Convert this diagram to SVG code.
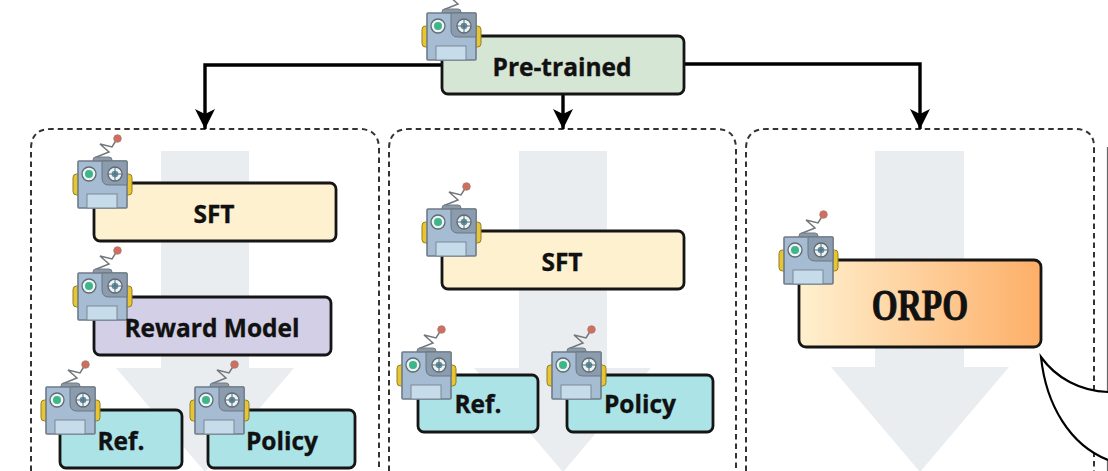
<svg xmlns="http://www.w3.org/2000/svg" width="1108" height="471" viewBox="0 0 1108 471">
<style>
.panel{fill:none;stroke:#333;stroke-width:2;stroke-dasharray:5.5 4}
.band{fill:#e9edf0}
.box{stroke:#151515;stroke-width:2.8}
.lbl{font-family:"Open Sans","DejaVu Sans",sans-serif;font-weight:700;font-size:24.5px;fill:#111;stroke:#111;stroke-width:.35;text-anchor:middle}
.orpo{font-family:"Liberation Serif",serif;font-weight:700;font-size:44px;fill:#111;stroke:#111;stroke-width:.9;text-anchor:middle}
.conn{fill:none;stroke:#000;stroke-width:3.4}
.callout{fill:none;stroke:#000;stroke-width:2.2}
</style>
<defs>
<marker id="ah" markerUnits="userSpaceOnUse" markerWidth="22" markerHeight="22" refX="20" refY="11" orient="auto"><path d="M0 1 L20 11 L0 21 L5 11Z" fill="#000"/></marker>
<linearGradient id="og" x1="0" x2="1" y1="0" y2="0"><stop offset="0" stop-color="#fff0cf"/><stop offset="1" stop-color="#fdaf68"/></linearGradient>
<g id="robot">
<path d="M16 -3L31 -9L22 -17L34 -14L39 -22" fill="none" stroke="#73777c" stroke-width="1.5"/>
<circle cx="39.500" cy="-22.500" r="3.800" fill="#cf6f60" stroke="#a9766c" stroke-width=".8"/>
<rect x="15" y="-4" width="19" height="7" rx="3" fill="#8d9aa6" stroke="#6f7b87"/>
<rect x="-5" y="13" width="9" height="21" rx="3.500" fill="#e9c631" stroke="#8f7d2a"/>
<rect x="45" y="13" width="9" height="21" rx="3.500" fill="#e9c631" stroke="#8f7d2a"/>
<rect x="0" y="0" width="49" height="47" rx="1" fill="#a6bcd2" stroke="#6f7b87" stroke-width="1.6"/>
<path d="M24 0H49V24H31Q24 24 24 17Z" fill="#8b9caf" stroke="#6a7682"/>
<circle cx="11" cy="13" r="7" fill="#eef3f3" stroke="#5f6b74" stroke-width="1.3"/><circle cx="11" cy="13" r="4" fill="#3eb58a"/>
<circle cx="37" cy="13" r="7" fill="#eef3f3" stroke="#5f6b74" stroke-width="1.3"/><circle cx="37" cy="13" r="3.300" fill="#5c93a8"/>
<path d="M37 6V20M30 13H44" stroke="#5f6b74" stroke-width="1"/>
<rect x="9" y="33" width="30" height="14" fill="#c6dceb" stroke="#7b8894"/>
</g>
</defs>
<g id="backdrop">
<path class="band" d="M161 151H249V368H294L205 472L116 368H161Z"/>
<path class="band" d="M519 151H607V368H651L563 472L474 368H519Z"/>
<path class="band" d="M875 151H964V367H1009L920 472L831 367H875Z"/>
</g>
<g id="panels">
<path class="panel" d="M31 471V149Q31 129 51 129H359Q379 129 379 149V471"/>
<path class="panel" d="M389 471V149Q389 129 409 129H716Q736 129 736 149V471"/>
<path class="panel" d="M746 471V149Q746 129 766 129H1075Q1095 129 1094 149V471"/>
</g>
<g id="connectors">
<path class="conn" marker-end="url(#ah)" d="M442 65H205V129"/>
<path class="conn" marker-end="url(#ah)" d="M563 94V129"/>
<path class="conn" marker-end="url(#ah)" d="M684 64H920V129"/>
</g>
<g id="pretrained"><rect class="box" x="442" y="36" width="242" height="58" rx="6" fill="#d6e6d4"/><use href="#robot" x="427" y="13"/><text class="lbl" x="562" y="76">Pre-trained</text></g>
<g id="sft1"><rect class="box" x="94" y="183" width="242" height="58" rx="6" fill="#fdf1cf"/><use href="#robot" x="78" y="161"/><text class="lbl" x="214" y="223">SFT</text></g>
<g id="reward"><rect class="box" x="94" y="297" width="237" height="58" rx="6" fill="#d3cfe6"/><use href="#robot" x="78" y="273"/><text class="lbl" x="212" y="337">Reward Model</text></g>
<g id="ref1"><rect class="box" x="60" y="410" width="122" height="58" rx="6" fill="#abe3e6"/><use href="#robot" x="46" y="387"/><text class="lbl" x="121" y="450">Ref.</text></g>
<g id="policy1"><rect class="box" x="208" y="410" width="147" height="58" rx="6" fill="#abe3e6"/><use href="#robot" x="195" y="387"/><text class="lbl" x="282" y="450">Policy</text></g>
<g id="sft2"><rect class="box" x="442" y="231" width="242" height="58" rx="6" fill="#fdf1cf"/><use href="#robot" x="427" y="209"/><text class="lbl" x="562" y="271">SFT</text></g>
<g id="ref2"><rect class="box" x="418" y="375" width="120" height="57" rx="6" fill="#abe3e6"/><use href="#robot" x="402" y="352"/><text class="lbl" x="478" y="413">Ref.</text></g>
<g id="policy2"><rect class="box" x="567" y="375" width="146" height="57" rx="6" fill="#abe3e6"/><use href="#robot" x="552" y="352"/><text class="lbl" x="640" y="413">Policy</text></g>
<g id="orpo"><rect class="box" x="799" y="260" width="242" height="87" rx="7" fill="url(#og)"/><use href="#robot" x="784" y="237"/><text class="orpo" transform="translate(920 320) scale(.76 1)">ORPO</text></g>
<g id="callout"><path d="M1107.500 147V471" stroke="#666" stroke-width="1.200" fill="none"/><path fill="#fff" d="M1041 357C1056 378 1080 391 1108 393V460C1070 445 1046 405 1041 357Z"/><path class="callout" d="M1108 392C1080 391 1056 378 1041 357C1046 405 1070 445 1108 460"/></g>
</svg>
